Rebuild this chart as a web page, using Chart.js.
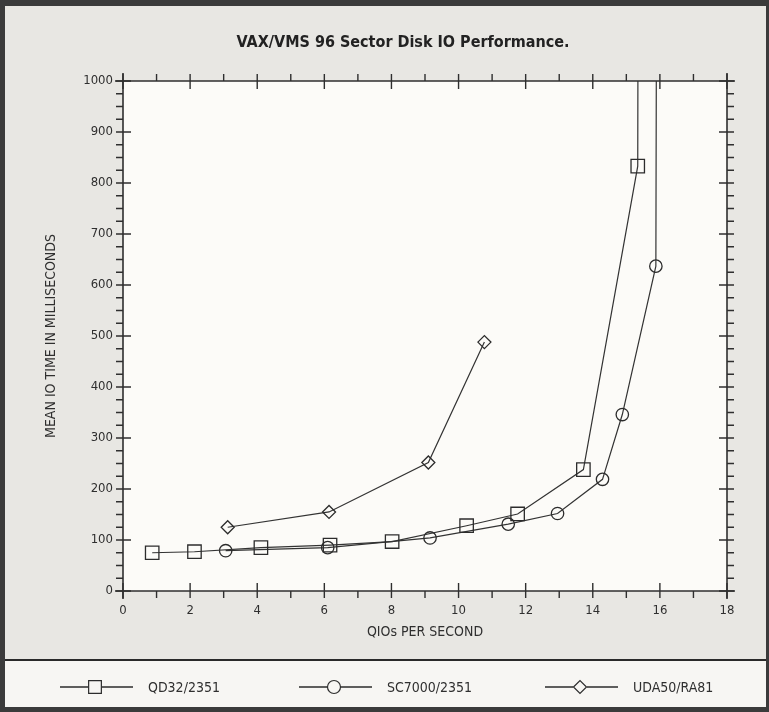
<!DOCTYPE html>
<html>
<head>
<meta charset="utf-8">
<title>VAX/VMS 96 Sector Disk IO Performance</title>
<script src="https://cdn.jsdelivr.net/npm/chart.js@4.4.1/dist/chart.umd.min.js"></script>
<style>
  html, body { margin: 0; padding: 0; background: #3b3b3b; }
  #chart { display: block; }
</style>
</head>
<body>
<canvas id="chart" width="769" height="712"></canvas>
<script>
// values (x = QIOs per second, y = mean IO time in ms)
// last point of the two fast series runs off the top of the scale
const qd32X = [0.87, 2.13, 4.11, 6.17, 8.02, 10.24, 11.76, 13.72, 15.34, 15.35];
const qd32Y = [75, 77, 85, 90, 97, 128, 151, 238, 833, 1200];

const sc7000X = [3.06, 6.10, 9.15, 11.48, 12.95, 14.29, 14.88, 15.88, 15.90];
const sc7000Y = [79, 85, 104, 131, 152, 219, 346, 637, 1200];

const uda50X = [3.12, 6.14, 9.10, 10.77];
const uda50Y = [125, 155, 252, 488];

const seriesLabels = ["QD32/2351", "SC7000/2351", "UDA50/RA81"];
const chartTitle = "VAX/VMS 96 Sector Disk IO Performance.";
const xTicks = { min: 0, max: 18, step: 2 };
const yTicks = { min: 0, max: 1000, step: 100 };

const FONT = '"Liberation Sans Narrow", "DejaVu Sans Condensed", "Arial Narrow", sans-serif';
const INK = "#2f2f2f";

const toPoints = (xs, ys) => xs.map((x, i) => ({ x: x, y: ys[i] }));

function series(label, xs, ys, style, radius) {
    return {
        label: label,
        data: toPoints(xs, ys),
        showLine: true,
        borderColor: "#333",
        borderWidth: 1.2,
        backgroundColor: "rgba(0,0,0,0)",
        pointStyle: style,
        pointRadius: radius,
        pointBorderWidth: 1.3,
        pointBorderColor: "#2c2c2c",
        pointBackgroundColor: "rgba(0,0,0,0)",
        clip: 0
    };
}

// page panels behind the chart, plus the heading (sits a bit right of centre)
const panels = {
    id: "panels",
    beforeDraw(chart) {
        const { ctx, chartArea: a } = chart;
        ctx.save();
        ctx.fillStyle = "#3b3b3b";
        ctx.fillRect(0, 0, chart.width, chart.height);
        ctx.fillStyle = "#e8e7e3";
        ctx.fillRect(5, 6, 761, 701);
        ctx.fillStyle = "#f7f6f3";
        ctx.fillRect(5, 661, 761, 46);
        ctx.fillStyle = "#fcfbf8";
        ctx.fillRect(a.left, a.top, a.right - a.left, a.bottom - a.top);
        ctx.strokeStyle = "#2a2a2a";
        ctx.lineWidth = 2;
        ctx.beginPath();
        ctx.moveTo(5, 660);
        ctx.lineTo(766, 660);
        ctx.stroke();

        ctx.fillStyle = "#222";
        ctx.font = "bold 16px " + FONT;
        ctx.textAlign = "center";
        ctx.textBaseline = "middle";
        ctx.fillText(chartTitle, 403, 43);
        ctx.restore();
    }
};

// frame with crossing major ticks and outward minor ticks on all four sides
const frameTicks = {
    id: "frameTicks",
    afterDatasetsDraw(chart) {
        const { ctx, chartArea: a } = chart;
        const xs = chart.scales.x, ys = chart.scales.y;
        const major = 8, minor = 7;
        ctx.save();
        ctx.strokeStyle = INK;
        ctx.lineWidth = 1.6;
        ctx.beginPath();
        ctx.moveTo(a.left - major, a.top); ctx.lineTo(a.right + major, a.top);
        ctx.moveTo(a.left - major, a.bottom); ctx.lineTo(a.right + major, a.bottom);
        ctx.moveTo(a.left, a.top - major); ctx.lineTo(a.left, a.bottom + major);
        ctx.moveTo(a.right, a.top - major); ctx.lineTo(a.right, a.bottom + major);
        ctx.stroke();

        ctx.lineWidth = 1.4;
        ctx.beginPath();
        for (let v = xs.min; v <= xs.max; v += 1) {
            const px = xs.getPixelForValue(v);
            const isMajor = v % 2 === 0;
            ctx.moveTo(px, a.bottom + minor);
            ctx.lineTo(px, isMajor ? a.bottom - major : a.bottom);
            ctx.moveTo(px, a.top - minor);
            ctx.lineTo(px, isMajor ? a.top + major : a.top);
        }
        for (let v = ys.min; v <= ys.max; v += 25) {
            const py = ys.getPixelForValue(v);
            const isMajor = v % 100 === 0;
            ctx.moveTo(a.left - minor, py);
            ctx.lineTo(isMajor ? a.left + major : a.left, py);
            ctx.moveTo(a.right + minor, py);
            ctx.lineTo(isMajor ? a.right - major : a.right, py);
        }
        ctx.stroke();
        ctx.restore();
    }
};

// legend strip under the divider: line - marker - line, then the name
const lineLegend = {
    id: "lineLegend",
    afterDraw(chart) {
        const { ctx } = chart;
        const starts = [60, 299, 545];
        const y = 687;
        ctx.save();
        chart.data.datasets.forEach((ds, i) => {
            const x0 = starts[i];
            const mid = x0 + 35;
            ctx.strokeStyle = "#2c2c2c";
            ctx.lineWidth = 1.4;
            ctx.beginPath();
            ctx.moveTo(x0, y); ctx.lineTo(mid - 7, y);
            ctx.moveTo(mid + 7, y); ctx.lineTo(x0 + 73, y);
            ctx.stroke();
            ctx.lineWidth = 1.2;
            ctx.fillStyle = "rgba(0,0,0,0)";
            Chart.helpers.drawPoint(ctx, {
                pointStyle: ds.pointStyle,
                radius: ds.pointStyle === "rect" ? 9 : 6.5,
                rotation: 0,
                borderWidth: 1.2
            }, mid, y);
            ctx.fillStyle = INK;
            ctx.font = "14px " + FONT;
            ctx.textBaseline = "middle";
            ctx.textAlign = "left";
            ctx.fillText(ds.label, x0 + 88, y + 1);
        });
        ctx.restore();
    }
};

new Chart(document.getElementById("chart"), {
    type: "scatter",
    data: {
        datasets: [
            series(seriesLabels[0], qd32X, qd32Y, "rect", 9.5),
            series(seriesLabels[1], sc7000X, sc7000Y, "circle", 6.2),
            series(seriesLabels[2], uda50X, uda50Y, "rectRot", 6.5)
        ]
    },
    options: {
        responsive: false,
        animation: false,
        layout: { padding: { top: 81, right: 42, bottom: 0, left: 0 } },
        plugins: {
            legend: { display: false },
            tooltip: { enabled: false },
            title: { display: false }
        },
        scales: {
            x: {
                type: "linear",
                min: xTicks.min,
                max: xTicks.max,
                afterFit: s => { s.height = 121; },
                grid: { display: false, drawTicks: false },
                border: { display: false },
                ticks: { stepSize: xTicks.step, padding: 12, color: INK, font: { family: FONT, size: 13 }, callback: v => String(v) },
                title: {
                    display: true,
                    text: "QIOs PER SECOND",
                    color: INK,
                    font: { family: FONT, size: 14 },
                    padding: { top: 0, bottom: 71 }
                }
            },
            y: {
                type: "linear",
                min: yTicks.min,
                max: yTicks.max,
                afterFit: s => { s.width = 123; },
                grid: { display: false, drawTicks: false },
                border: { display: false },
                ticks: { stepSize: yTicks.step, padding: 10, color: INK, font: { family: FONT, size: 13 }, callback: v => String(v) },
                title: {
                    display: true,
                    text: "MEAN IO TIME IN MILLISECONDS",
                    color: INK,
                    font: { family: FONT, size: 14 },
                    padding: { top: 43, bottom: 0 }
                }
            }
        }
    },
    plugins: [panels, frameTicks, lineLegend]
});
</script>
</body>
</html>
